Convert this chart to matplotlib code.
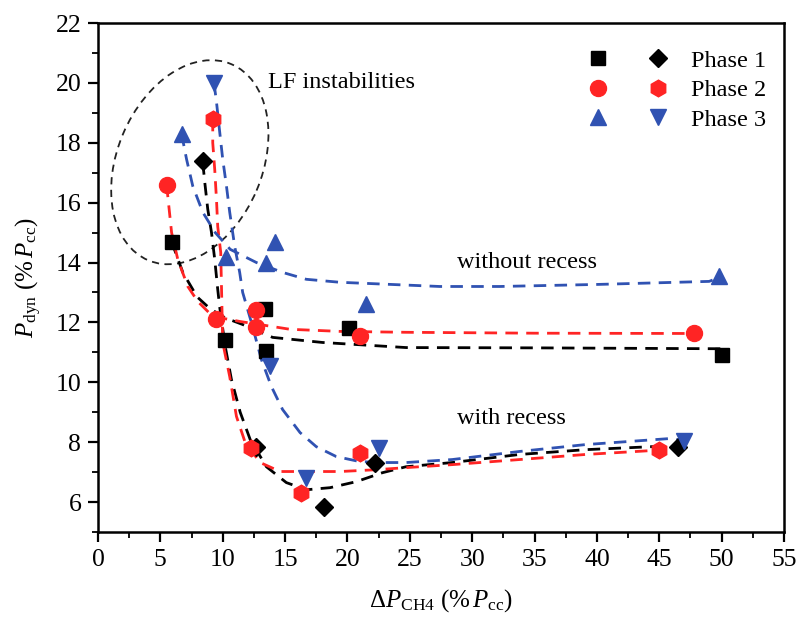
import numpy as np
import matplotlib
matplotlib.use("Agg")
import matplotlib.pyplot as plt
from matplotlib.patches import Ellipse
from matplotlib.legend_handler import HandlerTuple
import matplotlib.transforms as mtransforms

plt.rcParams['font.family'] = ['Liberation Serif', 'DejaVu Serif']
plt.rcParams['mathtext.fontset'] = 'custom'
plt.rcParams['mathtext.rm'] = 'Liberation Serif'
plt.rcParams['mathtext.it'] = 'Liberation Serif:italic'

# --------------------------------------------
# measured points (x = dP_CH4 %Pcc, y = Pdyn %Pcc)
# --------------------------------------------
p1_wo_x = [5.9, 10.2, 13.4, 13.5, 20.1, 50.0]          # squares
p1_wo_y = [14.7, 11.4, 12.45, 11.05, 11.8, 10.9]
p1_w_x = [8.4, 12.7, 18.1, 22.2, 46.5]                  # diamonds
p1_w_y = [17.4, 7.85, 5.85, 7.3, 7.85]

p2_wo_x = [5.5, 9.5, 12.7, 12.7, 21.0, 47.8]            # circles
p2_wo_y = [16.6, 12.1, 12.4, 11.85, 11.55, 11.65]
p2_w_x = [9.2, 12.3, 16.3, 21.0, 45.0]                  # hexagons
p2_w_y = [18.8, 7.8, 6.3, 7.65, 7.75]

p3_wo_x = [6.7, 10.3, 13.5, 14.2, 21.5, 49.8]           # up triangles
p3_wo_y = [18.3, 14.2, 14.0, 14.7, 12.6, 13.55]
p3_w_x = [9.3, 13.8, 16.7, 22.5, 47.0]                  # down triangles
p3_w_y = [20.0, 10.55, 6.8, 7.8, 8.05]

# --------------------------------------------
# fitted curves
# --------------------------------------------
f1_wo_x = [5.9, 6.8, 7.6, 7.9, 9.0, 10.2, 11.6, 14.0, 18.0, 24.7, 35.0, 50.2]
f1_wo_y = [14.7, 13.67, 13.1, 12.87, 12.45, 12.15, 11.93, 11.5, 11.33, 11.16, 11.15, 11.12]

f1_w_x = [8.4, 8.56, 8.8, 9.1, 9.36, 9.6, 9.75, 10.2, 10.7, 11.4, 12.2, 13.5, 15.1, 16.7,
          18.6, 20.7, 22.8, 24.7, 28.4, 33.8, 39.1, 44.4, 46.5]
f1_w_y = [17.35, 16.68, 15.78, 15.0, 14.1, 13.1, 12.53, 11.2, 10.09, 9.0, 8.09, 7.18, 6.65,
          6.41, 6.48, 6.68, 6.98, 7.18, 7.32, 7.59, 7.75, 7.85, 7.85]

f2_wo_x = [5.5, 5.9, 6.4, 7.2, 8.0, 9.2, 11.4, 15.4, 19.4, 24.7, 35.0, 47.8]
f2_wo_y = [16.6, 15.0, 14.1, 13.2, 12.7, 12.2, 12.03, 11.77, 11.7, 11.67, 11.64, 11.63]

f2_w_x = [9.2, 9.2, 9.36, 9.5, 9.6, 9.84, 9.9, 10.0, 10.56, 11.1, 11.8, 13.0, 14.6, 16.7,
          19.4, 22.3, 24.7, 28.4, 33.8, 39.1, 44.4, 45.0]
f2_w_y = [18.8, 18.0, 17.1, 16.1, 15.2, 14.34, 13.2, 11.33, 10.19, 8.86, 7.99, 7.32, 7.02,
          7.02, 7.02, 7.08, 7.15, 7.25, 7.42, 7.59, 7.72, 7.74]

f3_wo_x = [6.7, 7.1, 7.6, 8.4, 9.4, 10.6, 12.7, 14.8, 16.7, 19.4, 23.4, 27.4, 32.2, 40.2,
           49.0, 49.8]
f3_wo_y = [18.3, 17.45, 16.55, 15.68, 15.0, 14.44, 14.0, 13.67, 13.44, 13.34, 13.27, 13.2,
           13.2, 13.27, 13.37, 13.5]

f3_w_x = [9.3, 9.5, 9.76, 10.0, 10.3, 10.56, 10.96, 11.36, 11.6, 12.3, 13.1, 13.9, 14.8,
          16.2, 17.5, 19.1, 21.0, 23.1, 24.7, 28.4, 33.8, 39.1, 45.8, 47.0]
f3_w_y = [20.0, 19.36, 18.35, 17.45, 16.55, 15.68, 14.54, 13.67, 13.0, 12.0, 10.76, 9.86,
          9.09, 8.32, 7.85, 7.52, 7.35, 7.32, 7.32, 7.42, 7.69, 7.92, 8.12, 8.05]

black = 'black'
red = '#ff2424'
blue = '#3052b2'

# --------------------------------------------
# plot
# --------------------------------------------
fig = plt.figure(figsize=(7.98, 6.19), dpi=100)
ax = fig.add_axes([98 / 798, 1 - 532 / 619, 686 / 798, 509 / 619])

dash = (0, (4.5, 3))
lw = 2.0
ax.plot(f1_wo_x, f1_wo_y, color=black, lw=lw, ls=dash, zorder=2)
ax.plot(f1_w_x, f1_w_y, color=black, lw=lw, ls=dash, zorder=2)
ax.plot(f2_wo_x, f2_wo_y, color=red, lw=lw, ls=dash, zorder=2)
ax.plot(f2_w_x, f2_w_y, color=red, lw=lw, ls=dash, zorder=2)
ax.plot(f3_wo_x, f3_wo_y, color=blue, lw=lw, ls=dash, zorder=2)
ax.plot(f3_w_x, f3_w_y, color=blue, lw=lw, ls=dash, zorder=2)

h1a, = ax.plot(p1_wo_x, p1_wo_y, 's', color=black, ms=10, ls='none', zorder=3)
h1b, = ax.plot(p1_w_x, p1_w_y, 'D', color=black, ms=9.5, ls='none', zorder=3)
h2a, = ax.plot(p2_wo_x, p2_wo_y, 'o', color=red, ms=11.5, ls='none', zorder=3)
h2b, = ax.plot(p2_w_x, p2_w_y, 'h', color=red, ms=12, ls='none', zorder=3)
h3a, = ax.plot(p3_wo_x, p3_wo_y, '^', color=blue, ms=12, ls='none', zorder=3)
h3b, = ax.plot(p3_w_x, p3_w_y, 'v', color=blue, ms=12, ls='none', zorder=3)

# LF instabilities ellipse (sized in pixels, centred in data coords)
trans = fig.dpi_scale_trans + mtransforms.ScaledTranslation(7.36, 17.35, ax.transData)
ell = Ellipse((0, 0), width=2.13, height=1.45, angle=67, transform=trans,
              fill=False, edgecolor='#222222', lw=1.3, ls=(0, (4, 3)))
ax.add_patch(ell)

ax.text(13.6, 20.0, 'LF instabilities', fontsize=17.5, va='center', ha='left')
ax.text(28.8, 14.0, 'without recess', fontsize=17.5, va='center', ha='left')
ax.text(28.8, 8.8, 'with recess', fontsize=17.5, va='center', ha='left')

leg = ax.legend([(h1a, h1b), (h2a, h2b), (h3a, h3b)], ['Phase 1', 'Phase 2', 'Phase 3'],
                handler_map={tuple: HandlerTuple(ndivide=None, pad=0)},
                loc='upper right', bbox_to_anchor=(1.006, 0.99), frameon=False,
                fontsize=17.5, handlelength=4.9, handletextpad=0.15, labelspacing=0.3)

ax.set_xlim(0, 55)
ax.set_ylim(5, 22)
ax.set_xticks(np.arange(0, 56, 5))
ax.set_xticks(np.arange(0, 55.1, 2.5), minor=True)
ax.set_yticks(np.arange(6, 23, 2))
ax.set_yticks(np.arange(5, 22.1, 1), minor=True)
ax.tick_params(which='major', direction='out', length=7, width=1.6, labelsize=18.5, pad=5)
ax.tick_params(which='minor', direction='out', length=4, width=1.3)
for s in ax.spines.values():
    s.set_linewidth(1.8)

ax.set_xlabel(r'$\mathit{ΔP}_{\mathrm{CH4}}\ (\%\,\mathit{P}_{\mathrm{cc}})$', fontsize=18, labelpad=12)
ax.set_ylabel(r'$\mathit{P}_{\mathrm{dyn}}\ (\%\,\mathit{P}_{\mathrm{cc}})$', fontsize=18, labelpad=8)

plt.savefig('out.png', dpi=100)
